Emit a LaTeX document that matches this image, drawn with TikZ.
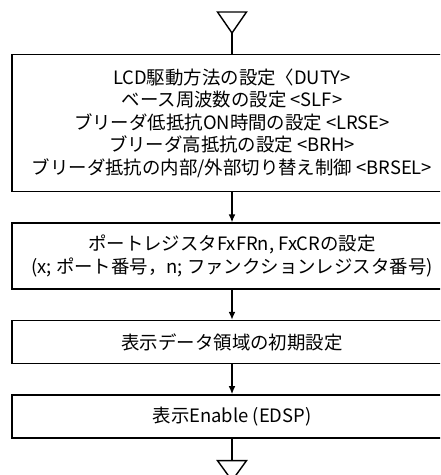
\documentclass[tikz,border=0pt]{standalone}
\usepackage{fontspec}
\setmainfont{Noto Sans CJK JP}
\usepackage{tikz}
\usetikzlibrary{positioning,arrows.meta}

\begin{document}
\begin{tikzpicture}[
    node distance=0.75cm,
    stepbox/.style={draw=black, line width=1pt, fill=white, minimum width=11cm, align=center, font=\fontsize{13.1}{16}\selectfont},
    arr/.style={-{Latex[length=2mm,width=1.7mm]}, line width=1pt},
    lnk/.style={line width=1pt}
  ]
    \clip (0,0) rectangle (11,-11.875);

    \coordinate (start) at (5.8,-0.825);
    \node[stepbox, minimum height=3.425cm, below=0.525cm of start] (lcd) {LCD駆動方法の設定〈DUTY>\\ ベース周波数の設定 <SLF>\\ ブリーダ低抵抗ON時間の設定 <LRSE>\\ ブリーダ高抵抗の設定 <BRH>\\ ブリーダ抵抗の内部/外部切り替え制御 <BRSEL>};
    \node[stepbox, minimum height=1.65cm, below=of lcd] (port) {ポートレジスタFxFRn, FxCRの設定\\ (x; ポート番号，n; ファンクションレジスタ番号)};
    \node[stepbox, minimum height=1.075cm, below=of port] (init) {表示データ領域の初期設定};
    \node[stepbox, minimum height=1.075cm, below=of init] (enable) {表示Enable (EDSP)};
    \coordinate[below=0.55cm of enable] (stop);

    % terminals
    \draw[lnk] (start) -- ++(-0.3625,0.525) -- ++(0.725,0) -- cycle;
    \draw[lnk] (stop) -- ++(-0.3625,0) -- ++(0.3625,-0.5) -- ++(0.3625,0.5) -- cycle;

    \draw[lnk] (start) -- (lcd);
    \draw[arr] (lcd) -- (port);
    \draw[arr] (port) -- (init);
    \draw[arr] (init) -- (enable);
    \draw[lnk] (enable) -- (stop);
  \end{tikzpicture}
\end{document}
